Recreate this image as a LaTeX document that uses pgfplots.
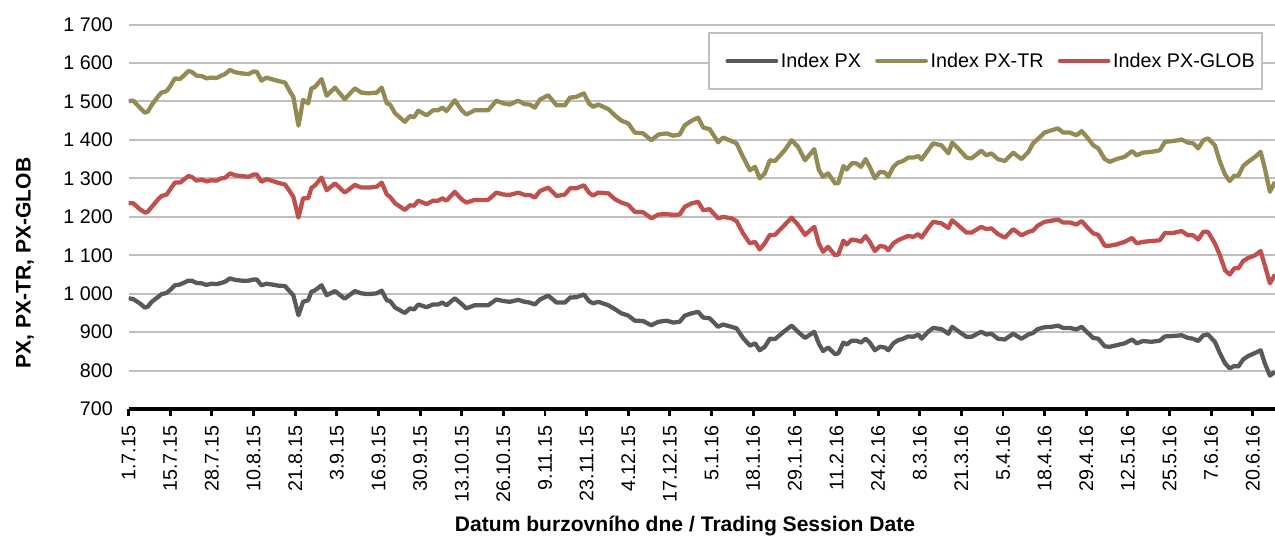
\documentclass[border=0pt]{standalone}
\usepackage{pgfplots}
\pgfplotsset{compat=1.18}
\usepackage{pgfplotstable}
\usepackage{fontspec}
\setmainfont{Liberation Sans}
\definecolor{pxgray}{HTML}{595959}
\definecolor{trolive}{HTML}{948A54}
\definecolor{globred}{HTML}{C0504D}
\definecolor{gridgray}{HTML}{BFBFBF}

\pgfplotstableread{
x y
0 988
1.0 986
2.4 975
3.5 964
4.1 966
5.0 979
6.4 992
7.1 999
8.2 1002
8.9 1009
10.0 1022
11.1 1024
12.9 1034
13.6 1034
14.7 1028
15.8 1027
16.8 1023
17.9 1026
19.0 1025
20.0 1028
20.8 1031
21.9 1040
23.0 1036
24.4 1034
25.9 1034
27.0 1037
27.7 1037
28.7 1022
29.8 1026
30.9 1024
32.4 1021
33.8 1020
34.9 1005
35.6 996
36.7 944
37.7 979
38.8 983
39.5 1005
40.3 1009
41.7 1022
42.8 996
44.6 1007
46.7 987
48.9 1007
50.3 1001
51.8 999
53.6 1001
54.7 1008
55.8 983
56.5 981
57.6 964
59.7 950
60.8 962
61.7 959
62.6 972
64.4 965
65.8 972
66.9 972
67.8 977
68.7 970
70.5 988
72.0 973
73.0 962
74.8 970
77.7 970
79.5 985
81.0 981
82.4 979
84.2 984
85.6 979
86.7 977
87.8 972
88.9 985
90.7 995
92.5 977
94.3 977
95.4 990
96.8 991
98.4 998
99.5 981
100.4 975
101.5 979
103.7 970
105.1 960
106.5 949
108.0 943
109.4 930
111.2 929
113.0 918
114.5 927
116.3 930
117.7 925
119.1 927
120.2 943
121.7 949
123.1 953
124.2 938
125.6 936
127.4 914
128.5 920
130.3 914
131.4 910
132.8 885
134.3 865
135.4 871
136.4 853
137.5 862
138.6 883
139.7 882
141.8 903
143.3 917
144.7 901
146.2 885
148.2 901
149.2 870
150.1 851
151.2 860
152.7 843
153.4 845
154.5 873
155.2 868
156.3 878
157.3 878
158.3 873
159.3 883
160.2 873
161.3 853
162.4 862
163.5 860
164.2 853
165.3 871
166.3 879
167.4 883
168.5 889
169.6 888
170.7 894
171.4 883
172.8 901
173.9 911
175.7 908
177.2 896
178.0 914
179.3 903
181.1 888
182.2 888
184.3 901
185.4 894
186.5 896
187.9 883
189.4 881
191.2 896
193.0 883
194.5 894
195.5 898
196.5 908
198.0 913
199.5 914
200.9 917
202.0 911
203.5 911
204.9 907
206.0 914
207.1 901
208.5 885
209.6 883
211.0 863
212.1 862
213.5 866
215.3 871
216.9 881
217.9 871
219.3 877
221.1 875
222.9 878
224.0 889
225.8 890
227.6 892
229.0 885
230.1 883
231.2 877
232.3 892
233.3 894
234.8 875
235.9 845
237.0 819
238.0 806
239.0 812
239.9 811
240.9 829
242.0 838
243.5 846
244.7 853
245.6 819
246.7 787
247.8 797
}\datapx

\pgfplotstableread{
x y
0 1501
1.0 1502
2.4 1484
3.5 1471
4.1 1473
5.0 1491
6.4 1514
7.1 1523
8.2 1527
8.9 1538
10.0 1560
11.1 1558
12.9 1579
13.6 1577
14.7 1567
15.8 1566
16.8 1560
17.9 1562
19.0 1561
20.0 1567
20.8 1571
21.9 1582
23.0 1576
24.4 1573
25.9 1571
27.0 1578
27.7 1577
28.7 1554
29.8 1562
30.9 1558
32.4 1553
33.8 1549
34.9 1525
35.6 1512
36.7 1437
37.7 1504
38.8 1495
39.5 1534
40.3 1538
41.7 1558
42.8 1515
44.6 1536
46.7 1506
48.9 1534
50.3 1523
51.8 1521
53.6 1523
54.7 1536
55.8 1495
56.5 1492
57.6 1469
59.7 1447
60.8 1462
61.7 1459
62.6 1476
64.4 1464
65.8 1477
66.9 1477
67.8 1484
68.7 1475
70.5 1503
72.0 1477
73.0 1466
74.8 1477
77.7 1477
79.5 1502
81.0 1495
82.4 1492
84.2 1502
85.6 1493
86.7 1492
87.8 1484
88.9 1505
90.7 1516
92.5 1490
94.3 1490
95.4 1510
96.8 1512
98.4 1521
99.5 1495
100.4 1486
101.5 1492
103.7 1480
105.1 1464
106.5 1450
108.0 1443
109.4 1419
111.2 1417
113.0 1399
114.5 1414
116.3 1417
117.7 1411
119.1 1414
120.2 1438
121.7 1450
123.1 1458
124.2 1432
125.6 1428
127.4 1394
128.5 1406
130.3 1397
131.4 1391
132.8 1356
134.3 1321
135.4 1330
136.4 1300
137.5 1313
138.6 1347
139.7 1345
141.8 1373
143.3 1399
144.7 1382
146.2 1347
148.2 1376
149.2 1322
150.1 1304
151.2 1313
152.7 1287
153.4 1287
154.5 1332
155.2 1323
156.3 1339
157.3 1339
158.3 1330
159.3 1350
160.2 1330
161.3 1300
162.4 1317
163.5 1315
164.2 1304
165.3 1330
166.3 1341
167.4 1345
168.5 1354
169.6 1354
170.7 1358
171.4 1349
172.8 1373
173.9 1391
175.7 1386
177.2 1365
178.0 1393
179.3 1378
181.1 1354
182.2 1352
184.3 1372
185.4 1360
186.5 1365
187.9 1350
189.4 1345
191.2 1367
193.0 1350
194.5 1369
195.5 1391
196.5 1402
198.0 1419
199.5 1425
200.9 1430
202.0 1419
203.5 1419
204.9 1412
206.0 1423
207.1 1408
208.5 1386
209.6 1378
211.0 1350
212.1 1343
213.5 1350
215.3 1356
216.9 1371
217.9 1360
219.3 1367
221.1 1369
222.9 1373
224.0 1395
225.8 1397
227.6 1401
229.0 1393
230.1 1391
231.2 1378
232.3 1399
233.3 1404
234.8 1386
235.9 1343
237.0 1310
238.0 1293
239.0 1307
239.9 1307
240.9 1332
242.0 1343
243.5 1356
244.7 1369
245.6 1326
246.7 1265
247.8 1291
}\datatr

\pgfplotstableread{
x y
0 1235
1.0 1235
2.4 1220
3.5 1211
4.1 1213
5.0 1226
6.4 1246
7.1 1254
8.2 1258
8.9 1270
10.0 1289
11.1 1289
12.9 1306
13.6 1304
14.7 1294
15.8 1297
16.8 1292
17.9 1295
19.0 1294
20.0 1300
20.8 1301
21.9 1313
23.0 1308
24.4 1306
25.9 1304
27.0 1310
27.7 1310
28.7 1291
29.8 1298
30.9 1294
32.4 1288
33.8 1284
34.9 1265
35.6 1252
36.7 1198
37.7 1248
38.8 1248
39.5 1275
40.3 1282
41.7 1302
42.8 1269
44.6 1287
46.7 1263
48.9 1283
50.3 1276
51.8 1276
53.6 1278
54.7 1289
55.8 1258
56.5 1252
57.6 1235
59.7 1218
60.8 1230
61.7 1229
62.6 1242
64.4 1233
65.8 1242
66.9 1242
67.8 1248
68.7 1242
70.5 1265
72.0 1245
73.0 1237
74.8 1244
77.7 1244
79.5 1263
81.0 1258
82.4 1257
84.2 1263
85.6 1257
86.7 1257
87.8 1250
88.9 1267
90.7 1276
92.5 1254
94.3 1258
95.4 1274
96.8 1274
98.4 1282
99.5 1263
100.4 1255
101.5 1263
103.7 1261
105.1 1246
106.5 1237
108.0 1231
109.4 1213
111.2 1212
113.0 1196
114.5 1206
116.3 1207
117.7 1205
119.1 1206
120.2 1226
121.7 1235
123.1 1239
124.2 1217
125.6 1220
127.4 1196
128.5 1200
130.3 1196
131.4 1189
132.8 1157
134.3 1131
135.4 1135
136.4 1115
137.5 1131
138.6 1153
139.7 1153
141.8 1179
143.3 1198
144.7 1179
146.2 1153
148.2 1174
149.2 1130
150.1 1109
151.2 1122
152.7 1100
153.4 1102
154.5 1138
155.2 1128
156.3 1141
157.3 1139
158.3 1135
159.3 1150
160.2 1135
161.3 1111
162.4 1124
163.5 1122
164.2 1113
165.3 1131
166.3 1139
167.4 1145
168.5 1150
169.6 1148
170.7 1155
171.4 1146
172.8 1170
173.9 1187
175.7 1183
177.2 1171
178.0 1191
179.3 1178
181.1 1159
182.2 1159
184.3 1174
185.4 1168
186.5 1170
187.9 1155
189.4 1146
191.2 1168
193.0 1152
194.5 1161
195.5 1164
196.5 1177
198.0 1187
199.5 1190
200.9 1193
202.0 1185
203.5 1185
204.9 1180
206.0 1189
207.1 1174
208.5 1157
209.6 1153
211.0 1125
212.1 1125
213.5 1128
215.3 1135
216.9 1145
217.9 1131
219.3 1135
221.1 1137
222.9 1139
224.0 1158
225.8 1158
227.6 1163
229.0 1152
230.1 1152
231.2 1141
232.3 1161
233.3 1161
234.8 1131
235.9 1100
237.0 1061
238.0 1050
239.0 1066
239.9 1066
240.9 1085
242.0 1093
243.5 1100
244.7 1111
245.6 1074
246.7 1027
247.8 1050
}\dataglob

\begin{document}
\begin{tikzpicture}
\begin{axis}[
  scale only axis,
  width=859.7pt, height=288.4pt,
  xmin=0, xmax=247.8, ymin=700, ymax=1700,
  axis x line*=bottom,
  axis y line*=left,
  y axis line style={draw=none},
  x axis line style={line width=3.2pt, black, -},
  ytick={700,800,...,1700},
  yticklabels={700,800,900,1 000,1 100,1 200,1 300,1 400,1 500,1 600,1 700},
  ytick style={draw=none},
  yticklabel style={font=\fontsize{14.8}{17}\selectfont, anchor=east, xshift=-8.4pt},
  xtick={0,9,...,243},
  xticklabels={1.7.15,15.7.15,28.7.15,10.8.15,21.8.15,3.9.15,16.9.15,30.9.15,13.10.15,26.10.15,9.11.15,23.11.15,4.12.15,17.12.15,5.1.16,18.1.16,29.1.16,11.2.16,24.2.16,8.3.16,21.3.16,5.4.16,18.4.16,29.4.16,12.5.16,25.5.16,7.6.16,20.6.16},
  xtick align=outside,
  major tick length=5.5pt,
  xtick style={line width=2.2pt, black},
  xticklabel style={font=\fontsize{14.8}{17}\selectfont, rotate=90, anchor=east, inner xsep=6.8pt},
  ymajorgrids,
  grid style={line width=1.5pt, gridgray},
  every axis y label/.style={at={(axis description cs:-0.0905,0.38)}, rotate=90, anchor=center},
  ylabel={\bfseries\fontsize{15.8}{19}\selectfont PX, PX-TR, PX-GLOB},
  every axis x label/.style={at={(axis description cs:0.4853,-0.3044)}, anchor=center},
  xlabel={\bfseries\fontsize{15.8}{19}\selectfont Datum burzovního dne / Trading Session Date},
  legend columns=3,
  legend style={at={(axis description cs:0.9895,0.9805)}, anchor=north east,
    draw=gridgray, line width=1.2pt, fill=white,
    font=\fontsize{14.8}{17}\selectfont,
    inner xsep=3.6pt, inner ysep=13pt,
    nodes={inner xsep=2pt},
    /tikz/every even column/.append style={column sep=0pt}},
  legend image code/.code={\path (-7pt,0pt); \draw[#1, line width=3.2pt, line cap=round] (1.6pt,0pt) -- (38pt,0pt);},
  every axis plot/.append style={line width=3.2pt, line join=round},
]
\addplot[pxgray] table[x=x,y=y] {\datapx};
\addlegendentry{Index PX}
\addplot[trolive] table[x=x,y=y] {\datatr};
\addlegendentry{Index PX-TR}
\addplot[globred] table[x=x,y=y] {\dataglob};
\addlegendentry{Index PX-GLOB}
\end{axis}
\pgfresetboundingbox
\path[use as bounding box] (-96.5pt,-96pt) rectangle (859.7pt,306.8pt);
\end{tikzpicture}
\end{document}
